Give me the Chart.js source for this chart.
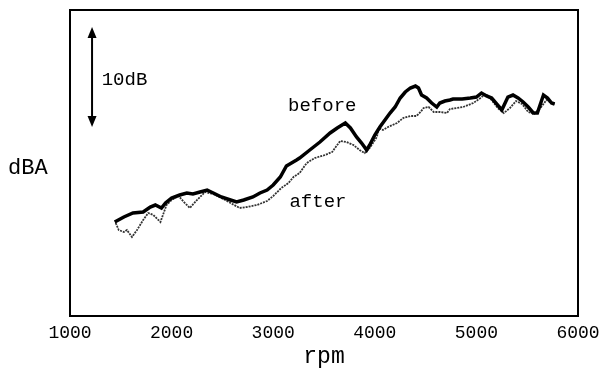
<!DOCTYPE html>
<html>
<head>
<meta charset="utf-8">
<script src="https://cdn.jsdelivr.net/npm/chart.js@4"></script>
<style>
  html, body { margin: 0; padding: 0; background: #fff; }
  #wrap { width: 606px; height: 371px; }
</style>
</head>
<body>
<div id="wrap"><canvas id="myChart"></canvas></div>
<script>
const xTicks = [1000, 2000, 3000, 4000, 5000, 6000];

const rpmBefore = [1440, 1530, 1620, 1720, 1790, 1840, 1900, 1940, 2000, 2080, 2150, 2210, 2280, 2350, 2410, 2490, 2580, 2640, 2710, 2800, 2870, 2940, 3000, 3070, 3130, 3180, 3230, 3260, 3360, 3460, 3560, 3630, 3710, 3760, 3820, 3870, 3920, 3950, 4000, 4050, 4100, 4150, 4200, 4250, 4300, 4350, 4400, 4430, 4460, 4510, 4560, 4610, 4640, 4690, 4740, 4770, 4860, 4940, 5000, 5050, 5100, 5150, 5250, 5310, 5360, 5410, 5460, 5510, 5560, 5600, 5660, 5700, 5740, 5770];
const dbaBefore = [59.4, 59.9, 60.3, 60.4, 60.9, 61.1, 60.8, 61.3, 61.8, 62.1, 62.3, 62.2, 62.4, 62.6, 62.3, 61.9, 61.6, 61.4, 61.6, 61.9, 62.3, 62.6, 63.1, 63.9, 65.0, 65.3, 65.6, 65.8, 66.6, 67.4, 68.3, 68.8, 69.3, 68.8, 67.9, 67.3, 66.6, 67.1, 68.1, 68.9, 69.6, 70.3, 70.9, 71.8, 72.4, 72.8, 73.0, 72.8, 72.1, 71.8, 71.3, 70.9, 71.3, 71.5, 71.6, 71.7, 71.7, 71.8, 71.9, 72.3, 72.0, 71.8, 70.6, 71.9, 72.1, 71.8, 71.4, 70.9, 70.3, 70.3, 72.1, 71.8, 71.3, 71.2];

const rpmAfter = [1450, 1480, 1530, 1560, 1610, 1660, 1720, 1770, 1820, 1890, 1950, 2000, 2070, 2120, 2180, 2250, 2330, 2410, 2510, 2580, 2670, 2740, 2840, 2940, 3000, 3080, 3150, 3200, 3260, 3330, 3410, 3510, 3580, 3630, 3660, 3720, 3790, 3850, 3900, 3950, 4020, 4040, 4080, 4130, 4220, 4280, 4350, 4410, 4450, 4480, 4530, 4580, 4640, 4710, 4740, 4870, 4970, 5040, 5090, 5150, 5210, 5270, 5330, 5390, 5450, 5510, 5570, 5630, 5690, 5740, 5770];
const dbaAfter = [59.3, 58.6, 58.4, 58.6, 57.9, 58.6, 59.6, 60.3, 60.1, 59.4, 61.1, 61.6, 62.0, 61.4, 60.8, 61.6, 62.4, 62.2, 61.7, 61.3, 60.8, 60.9, 61.1, 61.5, 62.0, 62.8, 63.3, 63.9, 64.3, 65.3, 65.8, 66.1, 66.4, 67.1, 67.5, 67.4, 67.1, 66.6, 66.3, 66.8, 67.9, 68.8, 68.6, 68.9, 69.3, 69.8, 70.0, 70.0, 70.4, 70.8, 70.9, 70.4, 70.4, 70.3, 70.7, 70.9, 71.3, 71.8, 72.2, 71.6, 70.8, 70.3, 70.8, 71.5, 71.2, 70.4, 70.2, 70.8, 71.6, 71.3, 71.2];

const FONT = "'Liberation Mono', 'Courier New', monospace";

// arrow showing the 10 dB scale, and where the text notes sit (in data units)
const arrowRpm = 1217;
const arrowTop = 78.9;

const notes = {
  id: "notes",
  afterDatasetsDraw(chart) {
    const { ctx, chartArea: a, scales: { x, y } } = chart;
    ctx.save();

    ctx.strokeStyle = "#000";
    ctx.lineWidth = 2;
    ctx.strokeRect(a.left, a.top, a.right - a.left, a.bottom - a.top);

    // double arrow
    const ax = x.getPixelForValue(arrowRpm);
    const y1 = y.getPixelForValue(arrowTop);
    const y2 = y.getPixelForValue(arrowTop - 10);
    ctx.beginPath();
    ctx.moveTo(ax, y1 + 8);
    ctx.lineTo(ax, y2 - 8);
    ctx.stroke();
    ctx.fillStyle = "#000";
    ctx.beginPath();
    ctx.moveTo(ax, y1);
    ctx.lineTo(ax - 4.5, y1 + 11);
    ctx.lineTo(ax + 4.5, y1 + 11);
    ctx.closePath();
    ctx.fill();
    ctx.beginPath();
    ctx.moveTo(ax, y2);
    ctx.lineTo(ax - 4.5, y2 - 11);
    ctx.lineTo(ax + 4.5, y2 - 11);
    ctx.closePath();
    ctx.fill();

    ctx.textBaseline = "middle";
    ctx.textAlign = "left";
    ctx.font = "19px " + FONT;
    ctx.fillText("10dB", x.getPixelForValue(1312), y.getPixelForValue(73.6));
    ctx.fillText("before", x.getPixelForValue(3146), y.getPixelForValue(71.0));
    ctx.fillText("after", x.getPixelForValue(3160), y.getPixelForValue(61.4));

    ctx.font = "22px " + FONT;
    ctx.fillText("dBA", a.left - 62, y.getPixelForValue(64.8));
    ctx.restore();
  },
};

new Chart(document.getElementById("myChart"), {
  type: "line",
  data: {
    datasets: [
      {
        label: "before",
        data: rpmBefore.map((r, i) => ({ x: r, y: dbaBefore[i] })),
        borderColor: "#000",
        borderWidth: 3.5,
        pointRadius: 0,
        tension: 0,
      },
      {
        label: "after",
        data: rpmAfter.map((r, i) => ({ x: r, y: dbaAfter[i] })),
        borderColor: "#333",
        borderWidth: 1.8,
        borderDash: [2, 1],
        pointRadius: 0,
        tension: 0,
      },
    ],
  },
  options: {
    animation: false,
    responsive: true,
    maintainAspectRatio: false,
    layout: { padding: { left: 70, right: 28, top: 10, bottom: 0 } },
    plugins: { legend: { display: false }, tooltip: { enabled: false } },
    scales: {
      x: {
        type: "linear",
        min: 1000,
        max: 6000,
        afterBuildTicks: (s) => { s.ticks = xTicks.map((v) => ({ value: v })); },
        afterFit: (s) => { s.height = 55; },
        grid: { display: false, drawTicks: false },
        border: { display: false },
        ticks: {
          color: "#000",
          padding: 6,
          font: { family: FONT, size: 18 },
          callback: (v) => String(v),
        },
        title: {
          display: true,
          text: "rpm",
          color: "#000",
          padding: { top: 0, bottom: 0 },
          font: { family: FONT, size: 23 },
        },
      },
      y: { display: false, min: 50, max: 80.6 },
    },
  },
  plugins: [notes],
});
</script>
</body>
</html>
